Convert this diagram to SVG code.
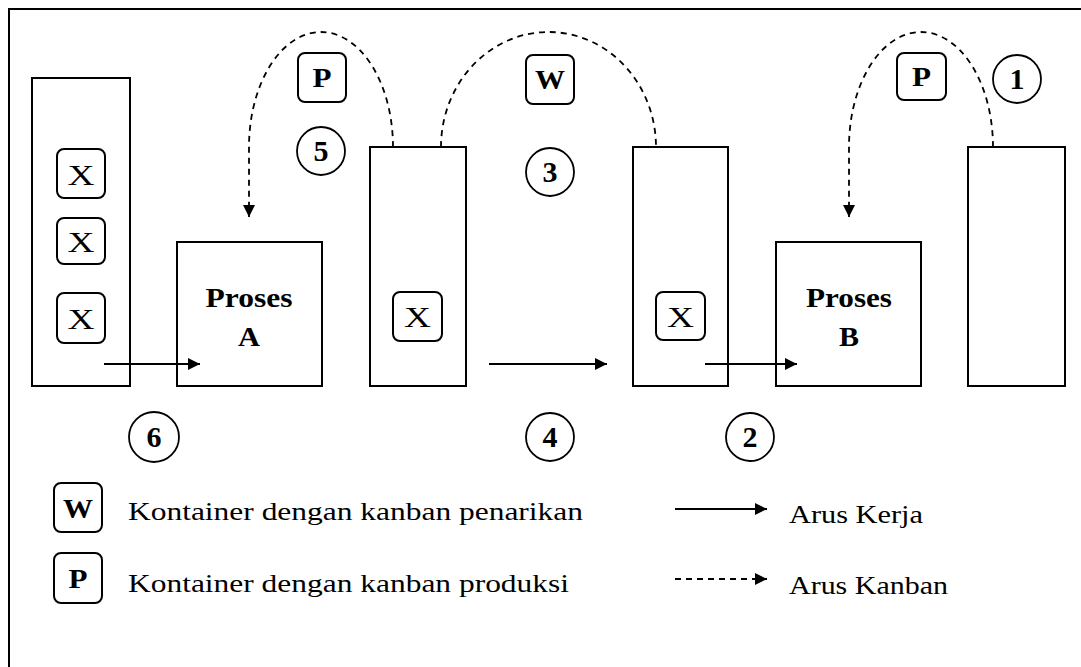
<svg xmlns="http://www.w3.org/2000/svg" width="1081" height="667" viewBox="0 0 1081 667">
<style>
.box{fill:none;stroke:#000;stroke-width:2}
.tag{fill:#fff;stroke:#000;stroke-width:2}
.circ{fill:none;stroke:#000;stroke-width:1.8}
.flow{fill:none;stroke:#000;stroke-width:2}
.kan{fill:none;stroke:#000;stroke-width:1.8;stroke-dasharray:6 5}
.t{font-family:"Liberation Serif","Times New Roman",serif;fill:#000}
.b{font-weight:bold}
.n{font-family:"Liberation Serif","Times New Roman",serif;font-weight:bold;font-size:30px;text-anchor:middle;fill:#000}
</style>
<defs>
<marker id="ah" viewBox="0 0 10 10" refX="10" refY="5" markerWidth="14" markerHeight="12" markerUnits="userSpaceOnUse" orient="auto">
<path d="M0,0 L10,5 L0,10 Z" fill="#000"/>
</marker>
</defs>
<rect width="1081" height="667" fill="#fff"/>
<g id="frame">
<path d="M9,667 L9,9 L1081,9" class="box"/>
</g>
<g id="container-left">
<rect x="32" y="78" width="98" height="308" class="box"/>
<rect x="57" y="149" width="48" height="49" rx="7" class="tag"/>
<text x="81" y="185" text-anchor="middle" class="t" font-size="29" textLength="27" lengthAdjust="spacingAndGlyphs">X</text>
<rect x="57" y="218" width="48" height="46" rx="7" class="tag"/>
<text x="81" y="252" text-anchor="middle" class="t" font-size="29" textLength="27" lengthAdjust="spacingAndGlyphs">X</text>
<rect x="57" y="293" width="48" height="50" rx="7" class="tag"/>
<text x="81" y="329" text-anchor="middle" class="t" font-size="29" textLength="27" lengthAdjust="spacingAndGlyphs">X</text>
</g>
<g id="proses-a">
<rect x="177" y="242" width="145" height="144" class="box"/>
<text x="249" y="307" text-anchor="middle" class="t b" font-size="28" textLength="87" lengthAdjust="spacingAndGlyphs">Proses</text>
<text x="249" y="346" text-anchor="middle" class="t b" font-size="28" textLength="22" lengthAdjust="spacingAndGlyphs">A</text>
</g>
<g id="container-2">
<rect x="370" y="147" width="96" height="239" class="box"/>
<rect x="393" y="292" width="49" height="49" rx="7" class="tag"/>
<text x="417.5" y="327" text-anchor="middle" class="t" font-size="29" textLength="27" lengthAdjust="spacingAndGlyphs">X</text>
</g>
<g id="container-3">
<rect x="633" y="147" width="95" height="239" class="box"/>
<rect x="656" y="292" width="49" height="48" rx="7" class="tag"/>
<text x="680.5" y="327" text-anchor="middle" class="t" font-size="29" textLength="27" lengthAdjust="spacingAndGlyphs">X</text>
</g>
<g id="proses-b">
<rect x="776" y="242" width="145" height="144" class="box"/>
<text x="849" y="307" text-anchor="middle" class="t b" font-size="28" textLength="86" lengthAdjust="spacingAndGlyphs">Proses</text>
<text x="849" y="346" text-anchor="middle" class="t b" font-size="28" textLength="20" lengthAdjust="spacingAndGlyphs">B</text>
</g>
<g id="container-4">
<rect x="968" y="147" width="97" height="239" class="box"/>
</g>
<g id="connectors">
<path d="M104,364 L200,364" class="flow" marker-end="url(#ah)"/>
<path d="M489,364 L607,364" class="flow" marker-end="url(#ah)"/>
<path d="M705,364 L797,364" class="flow" marker-end="url(#ah)"/>
<path d="M393,147 A72,115 0 0 0 249,147 L249,217" class="kan" marker-end="url(#ah)"/>
<path d="M441,147 A107.5,115 0 0 1 656,147" class="kan"/>
<path d="M993,147 A72,115 0 0 0 849,147 L849,217" class="kan" marker-end="url(#ah)"/>
</g>
<g id="kanban-p-a">
<rect x="298" y="53" width="48" height="49" rx="7" class="tag"/>
<text x="322" y="87" text-anchor="middle" class="t b" font-size="28" textLength="19" lengthAdjust="spacingAndGlyphs">P</text>
</g>
<g id="kanban-w">
<rect x="526" y="55" width="48" height="49" rx="7" class="tag"/>
<text x="550" y="89" text-anchor="middle" class="t b" font-size="28" textLength="30" lengthAdjust="spacingAndGlyphs">W</text>
</g>
<g id="kanban-p-b">
<rect x="897" y="53" width="49" height="47" rx="7" class="tag"/>
<text x="921.5" y="86" text-anchor="middle" class="t b" font-size="28" textLength="19" lengthAdjust="spacingAndGlyphs">P</text>
</g>
<g id="step-1">
<circle cx="1017" cy="79" r="24" class="circ"/>
<text x="1017" y="89" class="n">1</text>
</g>
<g id="step-2">
<circle cx="750" cy="437" r="24" class="circ"/>
<text x="750" y="447" class="n">2</text>
</g>
<g id="step-3">
<circle cx="550" cy="172" r="24" class="circ"/>
<text x="550" y="182" class="n">3</text>
</g>
<g id="step-4">
<circle cx="550" cy="437" r="24" class="circ"/>
<text x="550" y="447" class="n">4</text>
</g>
<g id="step-5">
<circle cx="321" cy="151" r="24" class="circ"/>
<text x="321" y="161" class="n">5</text>
</g>
<g id="step-6">
<circle cx="154" cy="437" r="25" class="circ"/>
<text x="154" y="447" class="n">6</text>
</g>
<g id="legend">
<rect x="54" y="483" width="48" height="49" rx="7" class="tag"/>
<text x="78" y="518" text-anchor="middle" class="t b" font-size="28" textLength="30" lengthAdjust="spacingAndGlyphs">W</text>
<text x="128" y="520" class="t" font-size="26" textLength="455" lengthAdjust="spacingAndGlyphs">Kontainer dengan kanban penarikan</text>
<rect x="54" y="553" width="48" height="50" rx="7" class="tag"/>
<text x="78" y="588" text-anchor="middle" class="t b" font-size="28" textLength="19" lengthAdjust="spacingAndGlyphs">P</text>
<text x="128" y="592" class="t" font-size="26" textLength="441" lengthAdjust="spacingAndGlyphs">Kontainer dengan kanban produksi</text>
<path d="M675,509 L767,509" class="flow" stroke-width="1.5" marker-end="url(#ah)"/>
<text x="789" y="523" class="t" font-size="26" textLength="134" lengthAdjust="spacingAndGlyphs">Arus Kerja</text>
<path d="M675,579 L767,579" class="kan" stroke-width="1.5" marker-end="url(#ah)"/>
<text x="789" y="594" class="t" font-size="26" textLength="159" lengthAdjust="spacingAndGlyphs">Arus Kanban</text>
</g>
</svg>
